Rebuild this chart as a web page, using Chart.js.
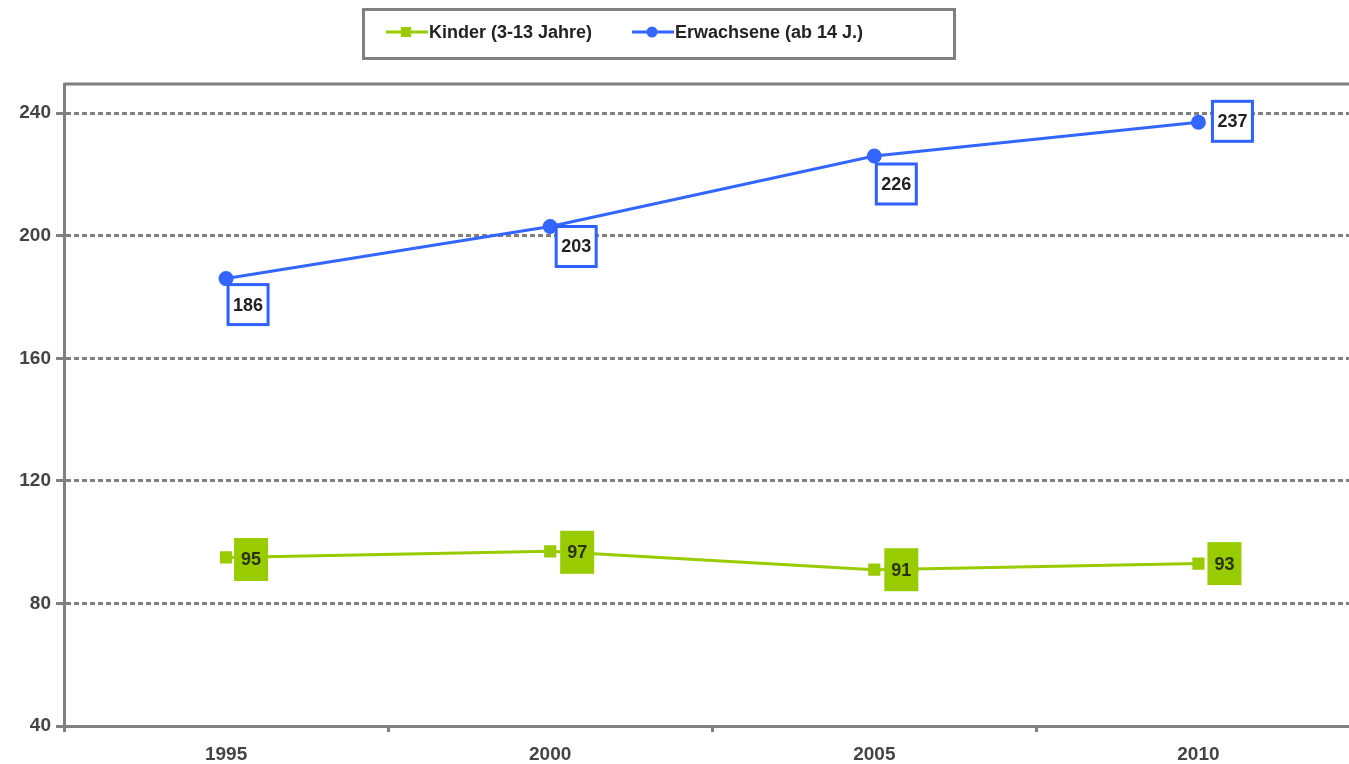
<!DOCTYPE html>
<html>
<head>
<meta charset="utf-8">
<script src="https://cdn.jsdelivr.net/npm/chart.js@4/dist/chart.umd.min.js"></script>
<style>
html, body { margin: 0; padding: 0; overflow: hidden; background: #fff; }
canvas { display: block; }
</style>
</head>
<body>
<canvas id="chart" width="1370" height="764"></canvas>
<script>
const years = ['1995', '2000', '2005', '2010'];
const kinder = [95, 97, 91, 93];
const erwachsene = [186, 203, 226, 237];
const yTicks = [40, 80, 120, 160, 200, 240];
const seriesNames = ['Kinder (3-13 Jahre)', 'Erwachsene (ab 14 J.)'];

const GREEN = '#99cc00';
const BLUE = '#3366ff';
const GREY = '#808080';
const FONT = "'Liberation Sans', Arial, sans-serif";

// legend in a grey box above the plot
const boxLegend = {
  id: 'boxLegend',
  afterDraw(chart) {
    const ctx = chart.ctx;
    ctx.save();
    ctx.strokeStyle = GREY;
    ctx.lineWidth = 3;
    ctx.strokeRect(363.5, 9.5, 591, 49);
    const items = [
      { x: 386, color: GREEN, marker: 'rect', text: seriesNames[0] },
      { x: 632, color: BLUE, marker: 'circle', text: seriesNames[1] }
    ];
    items.forEach(it => {
      const y = 32;
      ctx.strokeStyle = it.color;
      ctx.lineWidth = 3;
      ctx.beginPath();
      ctx.moveTo(it.x, y);
      ctx.lineTo(it.x + 42, y);
      ctx.stroke();
      ctx.fillStyle = it.color;
      if (it.marker === 'rect') {
        ctx.fillRect(it.x + 15, y - 5, 10, 10);
      } else {
        ctx.beginPath();
        ctx.arc(it.x + 20, y, 5.5, 0, Math.PI * 2);
        ctx.fill();
      }
      ctx.fillStyle = '#222';
      ctx.font = 'bold 18px ' + FONT;
      ctx.textBaseline = 'middle';
      ctx.textAlign = 'left';
      ctx.fillText(it.text, it.x + 43, y + 1);
    });
    ctx.restore();
  }
};

// top border of the plot area
const topBorder = {
  id: 'topBorder',
  afterDraw(chart) {
    const { ctx, chartArea } = chart;
    ctx.save();
    ctx.strokeStyle = GREY;
    ctx.lineWidth = 3;
    ctx.beginPath();
    ctx.moveTo(chartArea.left, chartArea.top);
    ctx.lineTo(chartArea.right, chartArea.top);
    ctx.stroke();
    ctx.restore();
  }
};

// value boxes next to the points
const valueBoxes = {
  id: 'valueBoxes',
  afterDatasetsDraw(chart, args, opts) {
    const ctx = chart.ctx;
    chart.data.datasets.forEach((ds, di) => {
      const st = opts.styles[di];
      const meta = chart.getDatasetMeta(di);
      meta.data.forEach((pt, i) => {
        const [dx, dy] = st.offsets[i];
        const cx = pt.x + dx, cy = pt.y + dy;
        const w = st.w, h = st.h;
        ctx.save();
        if (st.fill) {
          ctx.fillStyle = st.fill;
          ctx.fillRect(cx - w / 2, cy - h / 2, w, h);
        }
        if (st.stroke) {
          ctx.strokeStyle = st.stroke;
          ctx.lineWidth = 3;
          ctx.strokeRect(cx - w / 2, cy - h / 2, w, h);
        }
        ctx.fillStyle = st.textColor;
        ctx.font = 'bold 18px ' + FONT;
        ctx.textAlign = 'center';
        ctx.textBaseline = 'middle';
        ctx.fillText(String(ds.data[i]), cx, cy + 1);
        ctx.restore();
      });
    });
  }
};

const ctx = document.getElementById('chart').getContext('2d');
new Chart(ctx, {
  type: 'line',
  data: {
    labels: years,
    datasets: [
      {
        label: seriesNames[0],
        data: kinder,
        borderColor: GREEN,
        backgroundColor: GREEN,
        borderWidth: 3,
        pointStyle: 'rect',
        pointRadius: 6.5,
        tension: 0
      },
      {
        label: seriesNames[1],
        data: erwachsene,
        borderColor: BLUE,
        backgroundColor: BLUE,
        borderWidth: 3,
        pointStyle: 'circle',
        pointRadius: 6,
        tension: 0
      }
    ]
  },
  options: {
    responsive: false,
    animation: false,
    layout: { padding: { top: 84, right: 3, left: 0, bottom: 0 } },
    plugins: {
      legend: { display: false },
      tooltip: { enabled: false },
      valueBoxes: {
        styles: [
          { fill: GREEN, stroke: null, textColor: '#2a3300', w: 34, h: 43,
            offsets: [[25, 2], [27, 1], [27, 0], [26, 0]] },
          { fill: '#fff', stroke: '#3060ff', textColor: '#222', w: 40, h: 40,
            offsets: [[22, 26], [26, 20], [22, 28], [34, -1]] }
        ]
      }
    },
    scales: {
      x: {
        offset: true,
        grid: { offset: true, drawOnChartArea: false, color: GREY, lineWidth: 3, tickLength: 6 },
        border: { color: GREY, width: 3 },
        ticks: { color: '#444', font: { family: FONT, size: 19, weight: 'bold' }, padding: 11 },
        afterFit: s => { s.height = 38; }
      },
      y: {
        min: 40,
        max: 249.5,
        afterBuildTicks: s => { s.ticks = yTicks.map(v => ({ value: v })); },
        grid: { color: GREY, lineWidth: 3, tickLength: 8, tickBorderDash: [] },
        border: { color: GREY, width: 3, dash: [5, 3] },
        ticks: { color: '#444', font: { family: FONT, size: 19, weight: 'bold' }, padding: 5 },
        afterFit: s => { s.width = 64; }
      }
    }
  },
  plugins: [topBorder, valueBoxes, boxLegend]
});
</script>
</body>
</html>
